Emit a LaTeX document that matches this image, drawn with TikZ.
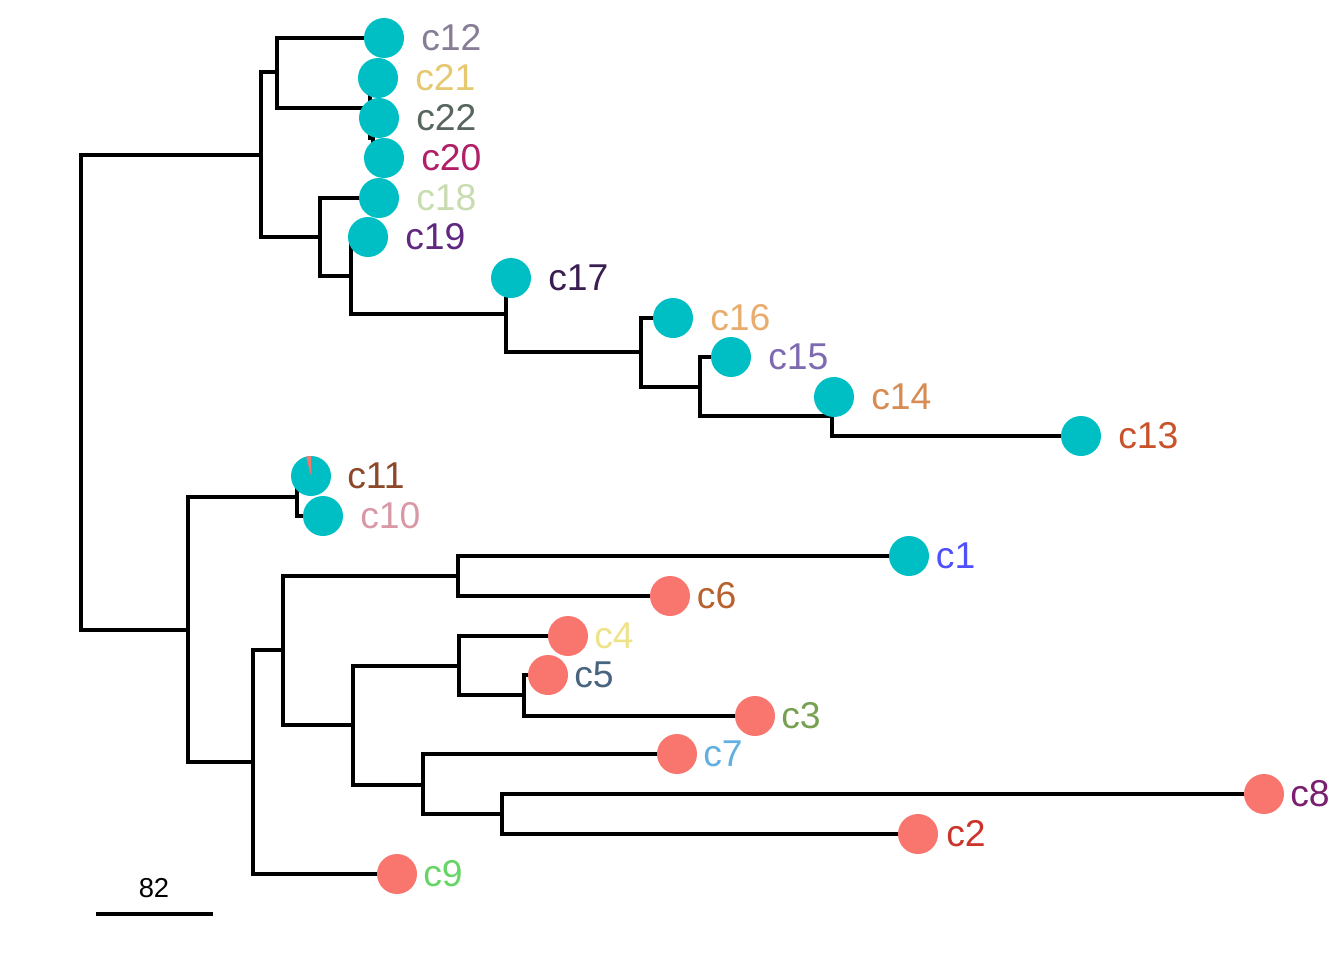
\documentclass[tikz,border=0pt]{standalone}
\usepackage{tikz}
\usepackage{xcolor}
\usepackage{fontspec}
\setmainfont{Liberation Sans}
\usetikzlibrary{calc,
	positioning}

\definecolor{tealtip}{RGB}{0,191,196}
\definecolor{redtip}{RGB}{248,118,109}
\definecolor{colC1}{RGB}{80,80,250}
\definecolor{colC2}{RGB}{202,52,42}
\definecolor{colC3}{RGB}{120,160,82}
\definecolor{colC4}{RGB}{238,226,138}
\definecolor{colC5}{RGB}{72,100,126}
\definecolor{colC6}{RGB}{184,96,46}
\definecolor{colC7}{RGB}{98,176,224}
\definecolor{colC8}{RGB}{122,30,110}
\definecolor{colC9}{RGB}{102,212,102}
\definecolor{colC10}{RGB}{216,152,166}
\definecolor{colC11}{RGB}{140,72,40}
\definecolor{colC12}{RGB}{135,125,150}
\definecolor{colC13}{RGB}{200,82,42}
\definecolor{colC14}{RGB}{214,140,82}
\definecolor{colC15}{RGB}{126,106,176}
\definecolor{colC16}{RGB}{232,172,108}
\definecolor{colC17}{RGB}{58,30,82}
\definecolor{colC18}{RGB}{200,220,176}
\definecolor{colC19}{RGB}{96,40,128}
\definecolor{colC20}{RGB}{176,32,104}
\definecolor{colC21}{RGB}{230,200,112}
\definecolor{colC22}{RGB}{88,102,94}

\tikzset{
	branch/.style={black, line width=3pt},
	tipdot/.style={circle, fill=#1, inner sep=0pt, minimum size=30pt},
	tiplab/.style={inner sep=0pt, text=#1, font=\fontsize{28}{31}\selectfont},
}

\begin{document}
\begin{tikzpicture}[x=0.75pt, y=-0.75pt]
	\useasboundingbox (0, 0) rectangle (1344, 960);
	\coordinate (r0) at (81, 392);
	\coordinate (n1) at (261, 155);
	\coordinate (nA) at (277, 72);
	\coordinate (nC) at (370, 108);
	\coordinate (nD) at (373, 138);
	\coordinate (nB) at (320, 237);
	\coordinate (nE) at (351, 276);
	\coordinate (nF) at (506, 314);
	\coordinate (nG) at (641, 352);
	\coordinate (nH) at (700, 387);
	\coordinate (nI) at (832, 416);
	\coordinate (nJ) at (188, 630);
	\coordinate (nK) at (297, 497);
	\coordinate (nL) at (253, 762);
	\coordinate (nM) at (283, 650);
	\coordinate (nN) at (458, 576);
	\coordinate (nO) at (353, 725);
	\coordinate (nP) at (459, 666);
	\coordinate (nR) at (524, 695);
	\coordinate (nQ) at (423, 785);
	\coordinate (nS) at (502, 814);
	\coordinate (t12) at (384, 38);
	\coordinate (t21) at (378, 78);
	\coordinate (t22) at (379, 118);
	\coordinate (t20) at (384, 158);
	\coordinate (t18) at (379, 198);
	\coordinate (t19) at (368, 237);
	\coordinate (t17) at (511, 278);
	\coordinate (t16) at (673, 318);
	\coordinate (t15) at (731, 357);
	\coordinate (t14) at (834, 397);
	\coordinate (t13) at (1081, 436);
	\coordinate (t11) at (311, 476);
	\coordinate (t10) at (323, 516);
	\coordinate (t1) at (909, 556);
	\coordinate (t6) at (670, 596);
	\coordinate (t4) at (568, 636);
	\coordinate (t5) at (548, 675);
	\coordinate (t3) at (755, 716);
	\coordinate (t7) at (677, 754);
	\coordinate (t8) at (1264, 794);
	\coordinate (t2) at (918, 834);
	\coordinate (t9) at (397, 874);

	\draw[branch] (r0) |- (n1) (r0) |- (nJ);
	\draw[branch] (n1) |- (nA) (n1) |- (nB);
	\draw[branch] (nA) |- (t12) (nA) |- (nC);
	\draw[branch] (nC) |- (t21) (nC) |- (nD);
	\draw[branch] (nD) |- (t22) (nD) |- (t20);
	\draw[branch] (nB) |- (t18) (nB) |- (nE);
	\draw[branch] (nE) |- (t19) (nE) |- (nF);
	\draw[branch] (nF) |- (t17) (nF) |- (nG);
	\draw[branch] (nG) |- (t16) (nG) |- (nH);
	\draw[branch] (nH) |- (t15) (nH) |- (nI);
	\draw[branch] (nI) |- (t14) (nI) |- (t13);
	\draw[branch] (nJ) |- (nK) (nJ) |- (nL);
	\draw[branch] (nK) |- (t11) (nK) |- (t10);
	\draw[branch] (nL) |- (nM) (nL) |- (t9);
	\draw[branch] (nM) |- (nN) (nM) |- (nO);
	\draw[branch] (nN) |- (t1) (nN) |- (t6);
	\draw[branch] (nO) |- (nP) (nO) |- (nQ);
	\draw[branch] (nP) |- (t4) (nP) |- (nR);
	\draw[branch] (nR) |- (t5) (nR) |- (t3);
	\draw[branch] (nQ) |- (t7) (nQ) |- (nS);
	\draw[branch] (nS) |- (t8) (nS) |- (t2);

	\node[tipdot=tealtip] (d12) at (t12) {};
	\node[tipdot=tealtip] (d21) at (t21) {};
	\node[tipdot=tealtip] (d22) at (t22) {};
	\node[tipdot=tealtip] (d20) at (t20) {};
	\node[tipdot=tealtip] (d18) at (t18) {};
	\node[tipdot=tealtip] (d19) at (t19) {};
	\node[tipdot=tealtip] (d17) at (t17) {};
	\node[tipdot=tealtip] (d16) at (t16) {};
	\node[tipdot=tealtip] (d15) at (t15) {};
	\node[tipdot=tealtip] (d14) at (t14) {};
	\node[tipdot=tealtip] (d13) at (t13) {};
	\node[tipdot=tealtip] (d11) at (t11) {};
	\fill[redtip] (d11.center) -- ++(90:15pt) arc (90:104:15pt) -- cycle;
	\node[tipdot=tealtip] (d10) at (t10) {};
	\node[tipdot=tealtip] (d1) at (t1) {};
	\node[tipdot=redtip] (d6) at (t6) {};
	\node[tipdot=redtip] (d4) at (t4) {};
	\node[tipdot=redtip] (d5) at (t5) {};
	\node[tipdot=redtip] (d3) at (t3) {};
	\node[tipdot=redtip] (d7) at (t7) {};
	\node[tipdot=redtip] (d8) at (t8) {};
	\node[tipdot=redtip] (d2) at (t2) {};
	\node[tipdot=redtip] (d9) at (t9) {};

	\node[tiplab=colC12, right=27.75pt of d12.center] (l12) {c12};
	\node[tiplab=colC21, right=27.75pt of d21.center] (l21) {c21};
	\node[tiplab=colC22, right=27.75pt of d22.center] (l22) {c22};
	\node[tiplab=colC20, right=27.75pt of d20.center] (l20) {c20};
	\node[tiplab=colC18, right=27.75pt of d18.center] (l18) {c18};
	\node[tiplab=colC19, right=27.75pt of d19.center] (l19) {c19};
	\node[tiplab=colC17, right=27.75pt of d17.center] (l17) {c17};
	\node[tiplab=colC16, right=27.75pt of d16.center] (l16) {c16};
	\node[tiplab=colC15, right=27.75pt of d15.center] (l15) {c15};
	\node[tiplab=colC14, right=27.75pt of d14.center] (l14) {c14};
	\node[tiplab=colC13, right=27.75pt of d13.center] (l13) {c13};
	\node[tiplab=colC11, right=27pt of d11.center] (l11) {c11};
	\node[tiplab=colC10, right=27.75pt of d10.center] (l10) {c10};
	\node[tiplab=colC1, right=20pt of d1.center] (l1) {c1};
	\node[tiplab=colC6, right=20pt of d6.center] (l6) {c6};
	\node[tiplab=colC4, right=19.5pt of d4.center] (l4) {c4};
	\node[tiplab=colC5, right=19.5pt of d5.center] (l5) {c5};
	\node[tiplab=colC3, right=19.5pt of d3.center] (l3) {c3};
	\node[tiplab=colC7, right=19.5pt of d7.center] (l7) {c7};
	\node[tiplab=colC8, right=19.5pt of d8.center] (l8) {c8};
	\node[tiplab=colC2, right=21pt of d2.center] (l2) {c2};
	\node[tiplab=colC9, right=19.5pt of d9.center] (l9) {c9};

	\coordinate (sbL) at (96, 914);
	\coordinate (sbR) at (213, 914);
	\draw[branch] (sbL) -- (sbR);
	\node[inner sep=0pt, font=\fontsize{20.5}{24}\selectfont] (sbT) at (154, 888) {82};
\end{tikzpicture}
\end{document}
